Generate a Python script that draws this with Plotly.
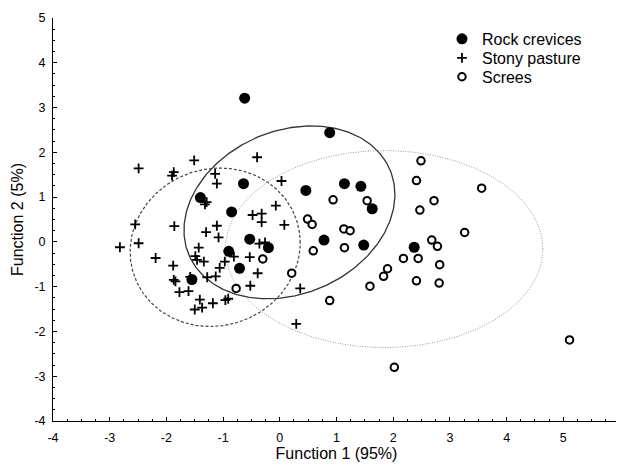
import numpy as np
import plotly.graph_objects as go

# ---- data ----
rock_x = [-0.62, 0.88, -0.64, -1.40, 0.46, 1.14, 1.43, 1.63, -0.85, -0.53, 0.78, 1.48, 2.37, -0.20, -0.90, -0.71, -1.55]
rock_y = [3.21, 2.44, 1.30, 0.99, 1.15, 1.30, 1.24, 0.74, 0.67, 0.06, 0.04, -0.07, -0.12, -0.13, -0.21, -0.59, -0.84]

stony_x = [-2.49, -1.51, -1.90, -1.87, -0.40, -1.14, -1.11, 0.03, -1.32, -0.07, -0.48, -0.32, -0.32, 0.08,
           -1.11, -2.55, -1.86, -1.30, -1.08, -2.49, -2.82, -1.43, -0.36, -0.26, -2.19, -1.49, -1.46, -1.34,
           -0.81, -0.53, -1.88, -0.97, -1.06, -0.39, -1.13, -1.28, -1.87, -1.84, -1.58, -0.52, 0.36, -1.77,
           -1.61, -1.41, -0.96, -0.91, -1.18, -1.50, -1.37, 0.29, -1.29]
stony_y = [1.64, 1.82, 1.48, 1.56, 1.89, 1.52, 1.30, 1.36, 0.84, 0.81, 0.60, 0.63, 0.44, 0.38,
           0.36, 0.39, 0.35, 0.22, 0.10, -0.03, -0.12, -0.13, -0.04, -0.01, -0.36, -0.32, -0.40, -0.44,
           -0.33, -0.34, -0.53, -0.44, -0.58, -0.70, -0.77, -0.79, -0.85, -0.88, -0.78, -0.98, -1.04, -1.12,
           -1.10, -1.29, -1.30, -1.27, -1.37, -1.51, -1.47, -1.83, 0.89]

screes_x = [2.49, 2.41, 3.56, 0.94, 1.54, 2.72, 2.47, 0.49, 0.57, 1.13, 1.24, 3.26, 2.68, 2.78, 1.14,
            0.59, -0.30, 2.18, 2.44, 2.82, 1.90, 1.83, 0.21, 2.41, 2.81, 1.59, -0.77, 0.88, 2.02, 5.11]
screes_y = [1.81, 1.37, 1.20, 0.94, 0.92, 0.92, 0.71, 0.51, 0.39, 0.29, 0.25, 0.21, 0.04, -0.10, -0.13,
            -0.20, -0.38, -0.37, -0.37, -0.51, -0.60, -0.77, -0.70, -0.87, -0.92, -0.99, -1.04, -1.31, -2.80, -2.19]

# ellipse parameters: centre, spread along x / y, covariance term
ell_cx = [0.17, -1.14, 1.84]
ell_cy = [0.66, -0.12, -0.16]
ell_sx = [1.86, 1.50, 2.80]
ell_sy = [1.93, 1.77, 2.20]
ell_sxy = [0.40, 0.10, 0.0]

x_ticks = [-4, -3, -2, -1, 0, 1, 2, 3, 4, 5, 6]
x_tick_labels = ["-4", "-3", "-2", "-1", "0", "1", "2", "3", "4", "5", "6"]
y_ticks = [-4, -3, -2, -1, 0, 1, 2, 3, 4, 5]
y_tick_labels = ["-4", "-3", "-2", "-1", "0", "1", "2", "3", "4", "5"]

ell_styles = [dict(color="#333333", width=1.3, dash="solid"),
              dict(color="#444444", width=1.2, dash="3px,2px"),
              dict(color="#999999", width=1.0, dash="1px,1.5px")]

FONT = "Liberation Sans, Arial, sans-serif"

fig = go.Figure()

t = np.linspace(0, 2 * np.pi, 361)
for cx, cy, sx, sy, sxy, st in zip(ell_cx, ell_cy, ell_sx, ell_sy, ell_sxy, ell_styles):
    cov = np.array([[sx ** 2, sxy * sx], [sxy * sx, sy ** 2]])
    L = np.linalg.cholesky(cov)
    pts = L @ np.vstack([np.cos(t), np.sin(t)])
    fig.add_trace(go.Scatter(x=cx + pts[0], y=cy + pts[1], mode="lines",
                             line=st, showlegend=False, hoverinfo="skip"))

fig.add_trace(go.Scatter(x=stony_x, y=stony_y, mode="markers", name="Stony pasture", legend="legend2",
                         marker=dict(symbol="cross-thin", size=7,
                                     line=dict(width=1.8, color="black"), color="black")))
fig.add_trace(go.Scatter(x=screes_x, y=screes_y, mode="markers", name="Screes", legend="legend3",
                         marker=dict(symbol="circle", size=7.5, color="white",
                                     line=dict(width=2, color="black"))))
fig.add_trace(go.Scatter(x=rock_x, y=rock_y, mode="markers", name="Rock crevices", legend="legend",
                         marker=dict(symbol="circle", size=11, color="black",
                                     line=dict(width=0))))

axis_common = dict(showgrid=False, zeroline=False, showline=True, linecolor="black", linewidth=1,
                   ticks="inside", ticklen=4, tickcolor="black", mirror=False, automargin=False,
                   ticklabeloverflow="allow",
                   tickfont=dict(family=FONT, size=12.5, color="black"),
                   minor=dict(ticks="inside", dtick=0.25, ticklen=2, tickcolor="black", showgrid=False))

fig.update_xaxes(range=[-4, 6], tickvals=x_ticks, ticktext=x_tick_labels, ticklabelstandoff=5,
                 **axis_common,
                 title=dict(text="Function 1 (95%)", standoff=5,
                            font=dict(family=FONT, size=16, color="black")))
fig.update_yaxes(range=[-4, 5], tickvals=y_ticks, ticktext=y_tick_labels, ticklabelstandoff=4,
                 **axis_common,
                 title=dict(text="Function 2 (5%)", standoff=6,
                            font=dict(family=FONT, size=16, color="black")))

leg_common = dict(x=0.686, xanchor="left", yanchor="middle",
                  font=dict(family=FONT, size=16, color="black"),
                  bgcolor="rgba(0,0,0,0)", itemsizing="trace")

fig.update_layout(
    width=616, height=454,
    margin=dict(l=45, r=4, t=10, b=41),
    paper_bgcolor="white", plot_bgcolor="white",
    legend=dict(y=0.948, **leg_common),
    legend2=dict(y=0.901, **leg_common),
    legend3=dict(y=0.854, **leg_common),
)

fig.write_html("out.html")
